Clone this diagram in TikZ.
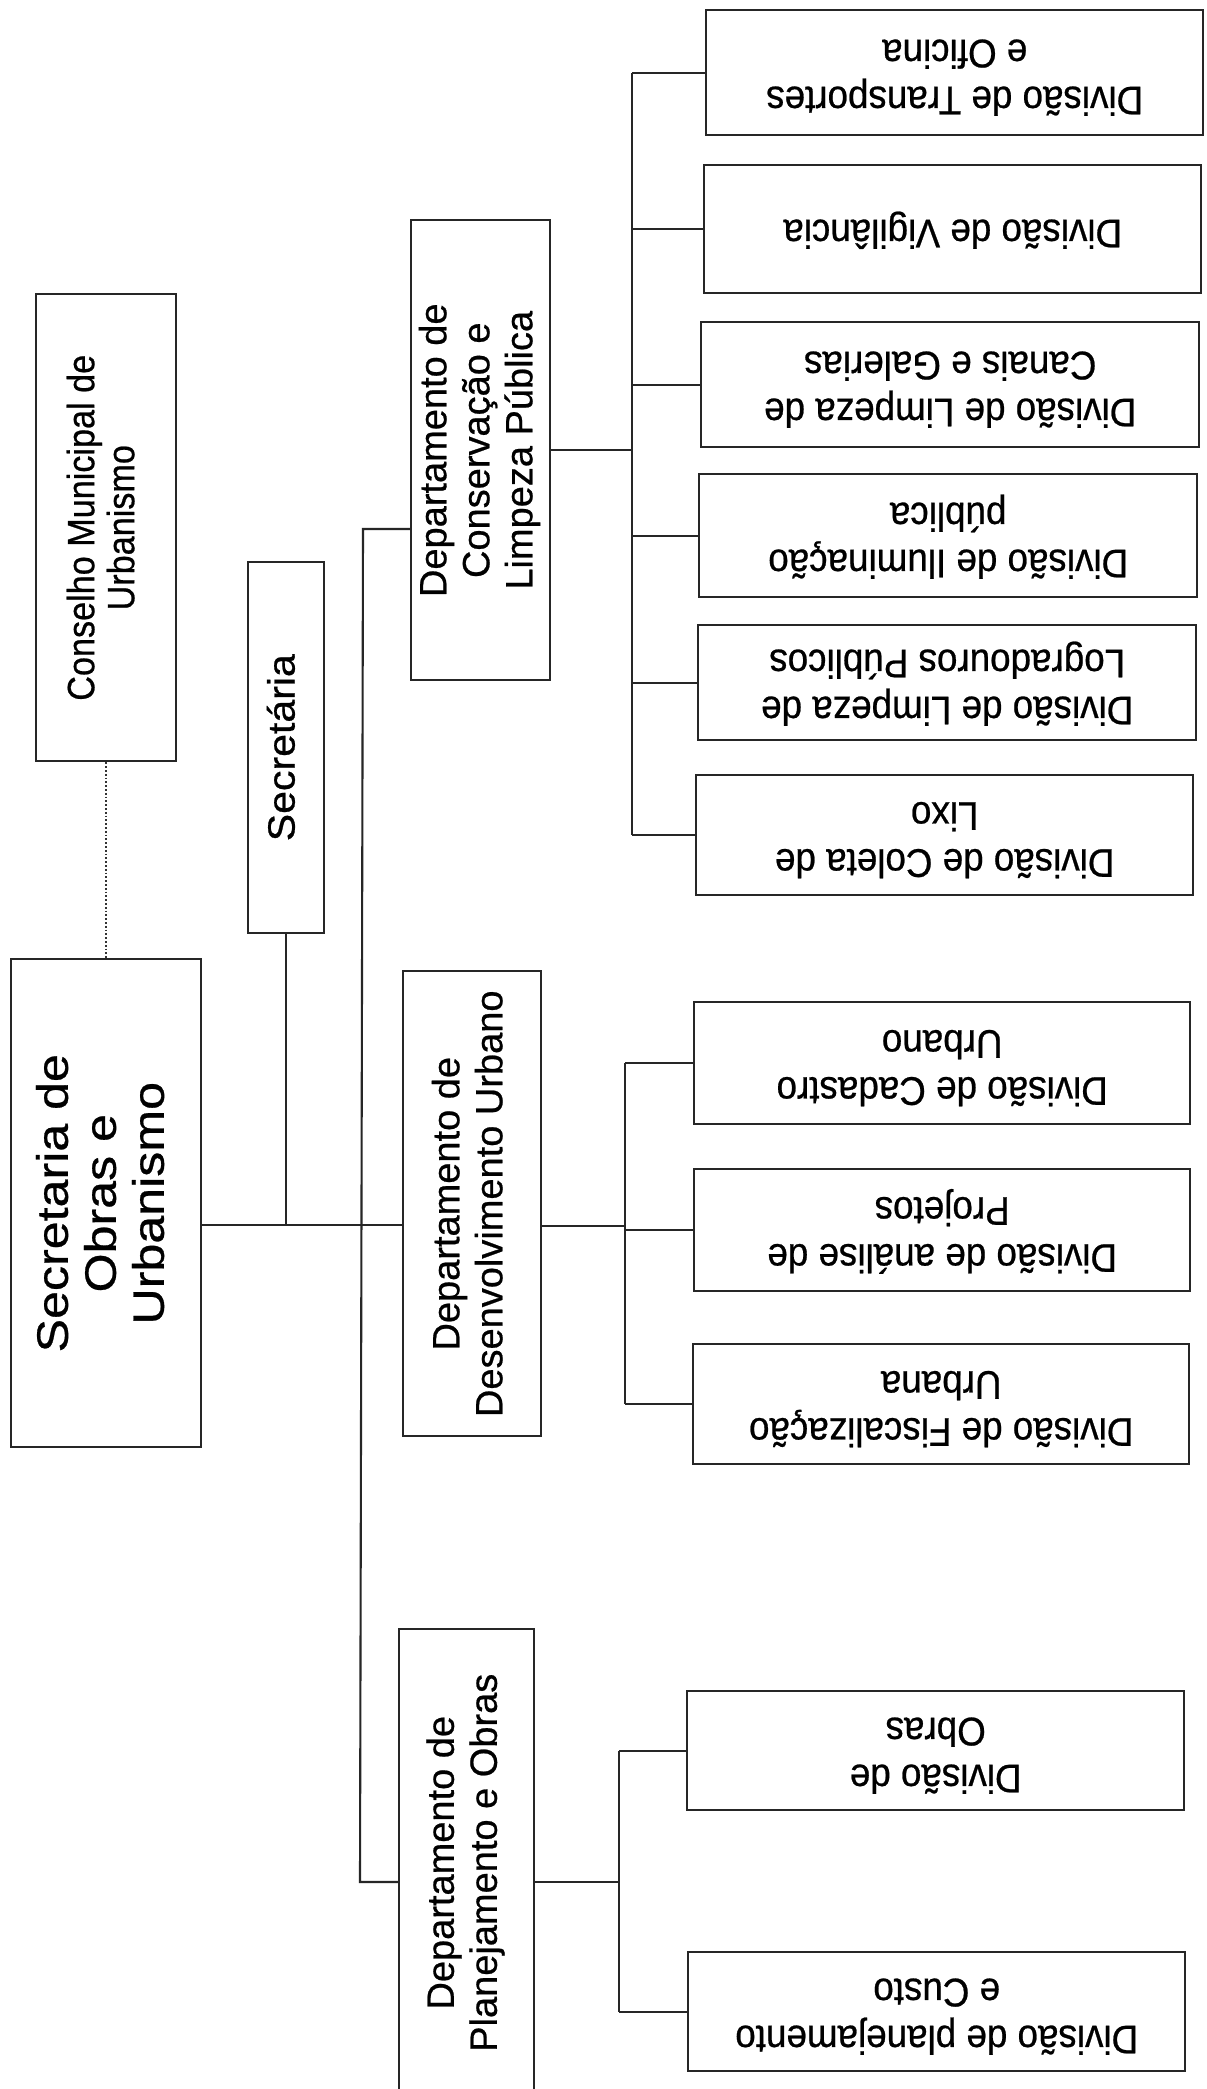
\documentclass[tikz,border=0pt]{standalone}
\usepackage{fontspec}
\setmainfont{Liberation Sans}
\newfontfamily\fsou[FakeStretch=1.14,FakeBold=0.6]{Liberation Sans}
\newfontfamily\fcons[FakeStretch=0.9,FakeBold=0.6]{Liberation Sans}
\newfontfamily\fdiv[FakeStretch=0.92,FakeBold=0.6]{Liberation Sans}
\newfontfamily\fsec[FakeStretch=1.08,FakeBold=0.6]{Liberation Sans}
\newfontfamily\fdep[FakeBold=0.6]{Liberation Sans}
\newcommand\up[1]{\rotatebox{90}{\begin{tabular}{@{}c@{}}#1\end{tabular}}}
\newcommand\flip[1]{\rotatebox[origin=c]{180}{\begin{tabular}{@{}c@{}}#1\end{tabular}}}
\begin{document}
\begin{tikzpicture}[x=1pt,y=-1pt,
  box/.style={draw=black!85, line width=2.4pt, rectangle, inner sep=0pt, anchor=north west, fill=white},
  conn/.style={draw=black!85, line width=2.1pt},
  dotconn/.style={draw=black!80, line width=1.8pt, dotted},
  soufont/.style={font=\fsou\fontsize{44}{48}\selectfont},
  consfont/.style={font=\fcons\fontsize{38}{40}\selectfont},
  secfont/.style={font=\fsec\fontsize{38}{42}\selectfont},
  depfont/.style={font=\fdep\fontsize{38}{43}\selectfont},
  divfont/.style={font=\fdiv\fontsize{40}{47}\selectfont}]
\fill[white] (0,0) rectangle (1207,2089);
\clip (0,0) rectangle (1207,2089);
\useasboundingbox (0,0) rectangle (1207,2089);

% top levels
\node[box, consfont, minimum width=140pt, minimum height=467pt] (cons) at (35,293) {\up{Conselho Municipal de\\Urbanismo}};
\node[box, soufont, minimum width=190pt, minimum height=488pt] (sou) at (10,958) {\up{Secretaria de\\Obras e\\Urbanismo}};
\node[box, secfont, minimum width=76pt, minimum height=371pt] (sec) at (247,561) {\up{Secretária}};

% departments
\node[box, depfont, minimum width=139pt, minimum height=460pt] (dcons) at (410,219) {\up{Departamento de\\Conservação e\\Limpeza Pública}};
\node[box, depfont, minimum width=138pt, minimum height=465pt] (ddes) at (402,970) {\up{Departamento de\\Desenvolvimento Urbano}};
\node[box, depfont, minimum width=135pt, minimum height=467pt] (dplan) at (398,1628) {\up{Departamento de\\Planejamento e Obras}};

% divisions of Conservação
\node[box, divfont, minimum width=497pt, minimum height=125pt] (dtra) at (705,9) {\flip{Divisão de Transportes\\e Oficina}};
\node[box, divfont, minimum width=497pt, minimum height=128pt] (dvig) at (703,164) {\flip{Divisão de Vigilância}};
\node[box, divfont, minimum width=498pt, minimum height=125pt] (dcan) at (700,321) {\flip{Divisão de Limpeza de\\Canais e Galerias}};
\node[box, divfont, minimum width=498pt, minimum height=123pt] (dilu) at (698,473) {\flip{Divisão de Iluminação\\pública}};
\node[box, divfont, minimum width=498pt, minimum height=115pt] (dlog) at (697,624) {\flip{Divisão de Limpeza de\\Logradouros Públicos}};
\node[box, divfont, minimum width=497pt, minimum height=120pt] (dcol) at (695,774) {\flip{Divisão de Coleta de\\Lixo}};

% divisions of Desenvolvimento
\node[box, divfont, minimum width=496pt, minimum height=122pt] (dcad) at (693,1001) {\flip{Divisão de Cadastro\\Urbano}};
\node[box, divfont, minimum width=496pt, minimum height=122pt] (dana) at (693,1168) {\flip{Divisão de análise de\\Projetos}};
\node[box, divfont, minimum width=496pt, minimum height=120pt] (dfis) at (692,1343) {\flip{Divisão de Fiscalização\\Urbana}};

% divisions of Planejamento
\node[box, divfont, minimum width=497pt, minimum height=119pt] (dobr) at (686,1690) {\flip{Divisão de\\Obras}};
\node[box, divfont, minimum width=497pt, minimum height=119pt] (dcus) at (687,1951) {\flip{Divisão de planejamento\\e Custo}};

% connectors
\coordinate (ttop) at (363,529);
\coordinate (tbot) at (360,1882);
\coordinate (bx1) at (632,0);
\coordinate (bx2) at (625,0);
\coordinate (bx3) at (619,0);
\coordinate (jmain) at ([yshift=-22pt]sou.east);
\coordinate (jdes) at ([yshift=-22pt]ddes.east);

\draw[dotconn] (cons.south) -- (sou.north);
\draw[conn] (jmain) -- (ddes.west |- jmain);
\draw[conn] (sec.south) -- (sec.south |- jmain);
\draw[conn] (dcons.west |- ttop) -- (ttop) -- (tbot) -- (dplan.west |- tbot);

\draw[conn] (dcons.east) -- (dcons.east -| bx1);
\draw[conn] (dtra.west -| bx1) -- (dcol.west -| bx1);
\foreach \n in {dtra,dvig,dcan,dilu,dlog,dcol} \draw[conn] (\n.west -| bx1) -- (\n.west);

\draw[conn] (jdes) -- (jdes -| bx2);
\draw[conn] (dcad.west -| bx2) -- (dfis.west -| bx2);
\foreach \n in {dcad,dana,dfis} \draw[conn] (\n.west -| bx2) -- (\n.west);

\draw[conn] (dplan.east |- tbot) -- (tbot -| bx3);
\draw[conn] (dobr.west -| bx3) -- (dcus.west -| bx3);
\foreach \n in {dobr,dcus} \draw[conn] (\n.west -| bx3) -- (\n.west);
\end{tikzpicture}
\end{document}
